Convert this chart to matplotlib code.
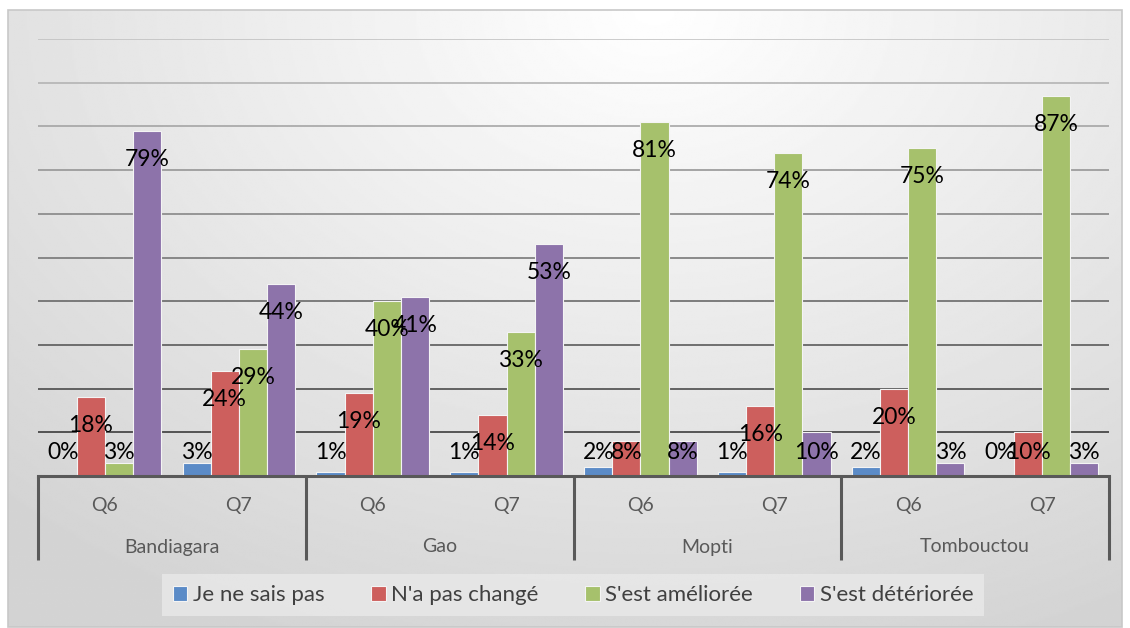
import numpy as np
import matplotlib
matplotlib.use("Agg")
import matplotlib.pyplot as plt
from matplotlib.patches import Rectangle, Patch
import matplotlib.transforms as mtransforms

plt.rcParams['font.family'] = ['Lato', 'DejaVu Sans']

# data (values in %)
regions = ['Bandiagara', 'Gao', 'Mopti', 'Tombouctou']
questions = ['Q6', 'Q7']
series = ['Je ne sais pas', "N'a pas changé", "S'est améliorée", "S'est détériorée"]
ne_sais_pas = [0, 3, 1, 1, 2, 1, 2, 0]
pas_change = [18, 24, 19, 14, 8, 16, 20, 10]
amelioree = [3, 29, 40, 33, 81, 74, 75, 87]
deterioree = [79, 44, 41, 53, 8, 10, 3, 3]
colors = ['#5b8bc7', '#cd5f5d', '#a6c16c', '#8d73aa']

W, H = 1130, 628
fig = plt.figure(figsize=(W / 100, H / 100), dpi=100)
fig.patch.set_facecolor('white')

# gradient background of the chart area
bx0, by0, bx1, by1 = 8, 10, 1122, 627
bg = fig.add_axes([bx0 / W, 1 - by1 / H, (bx1 - bx0) / W, (by1 - by0) / H])
yy, xx = np.mgrid[0:1:300j, 0:1:600j]
d = np.sqrt(((xx - 0.58) * 1.3) ** 2 + (yy * 1.0) ** 2)
shade = 1.0 - 0.17 * np.clip(d / 1.1, 0, 1)
bg.imshow(shade, cmap='gray', vmin=0, vmax=1, aspect='auto', extent=[0, 1, 0, 1], origin='upper')
bg.set_xlim(0, 1)
bg.set_ylim(0, 1)
bg.axis('off')
fig.add_artist(Rectangle((bx0 / W, 1 - by1 / H), (bx1 - bx0) / W, (by1 - by0) / H,
                         transform=fig.transFigure, fill=False, edgecolor='#c8c8c8', lw=1.2))

# main axes
ax_l, ax_r, ax_t, ax_b = 38, 1109, 39, 476
ax = fig.add_axes([ax_l / W, 1 - ax_b / H, (ax_r - ax_l) / W, (ax_b - ax_t) / H])
ax.patch.set_alpha(0)
for s in ax.spines.values():
    s.set_visible(False)
ax.set_xticks([])
ax.set_yticks([])
ax.set_xlim(-0.5, 7.5)
ax.set_ylim(0, 1.0)

# gridlines, darker toward the bottom
for k in range(1, 11):
    g = 0.18 + (k - 1) / 9 * 0.57
    ax.axhline(k / 10, color=(g, g, g), lw=1.1, zorder=1)

x = np.arange(8)
bw = 0.21
all_vals = [ne_sais_pas, pas_change, amelioree, deterioree]
for j, vals in enumerate(all_vals):
    v = np.array(vals) / 100
    pos = x + (j - 1.5) * bw
    ax.bar(pos, v, width=bw, color=colors[j], edgecolor='#f4f4f4', lw=0.8, zorder=2)
    for p, val in zip(pos, v):
        ly = max(val - 0.065, 0.053)
        ax.text(p, ly, f'{int(round(val * 100))}%', ha='center', va='center',
                fontsize=16.5, color='black', zorder=4)

ax.axhline(0, color='#595959', lw=2.2, zorder=3, clip_on=False)

# two-level category axis
trans = mtransforms.blended_transform_factory(ax.transData, ax.transAxes)
sep_bot = -(560 - ax_b) / (ax_b - ax_t)
for xs in [-0.5, 1.5, 3.5, 5.5, 7.5]:
    ax.plot([xs, xs], [0, sep_bot], transform=trans, color='#595959', lw=2.2,
            clip_on=False, solid_capstyle='butt')
for i in range(8):
    ax.text(i, -(505 - ax_b) / (ax_b - ax_t), questions[i % 2], transform=trans,
            ha='center', va='center', fontsize=14, color='#595959')
for r, name in enumerate(regions):
    ax.text(2 * r + 0.5, -(547 - ax_b) / (ax_b - ax_t), name, transform=trans,
            ha='center', va='center', fontsize=14, color='#595959')

# legend
handles = [Patch(facecolor=c, edgecolor='#f4f4f4', lw=0.8) for c in colors]
leg = fig.legend(handles, series, ncol=4, loc='center',
                 bbox_to_anchor=((161 + 985) / 2 / W, 1 - 595 / H),
                 frameon=True, fontsize=16, handlelength=0.65, handleheight=0.65,
                 handletextpad=0.25, columnspacing=2.1, borderpad=0.5, labelcolor='#404040')
leg.get_frame().set_facecolor('#e9e9e9')
leg.get_frame().set_edgecolor('none')
leg.get_frame().set_boxstyle('square', pad=0)

fig.savefig('out.png', dpi=100)
